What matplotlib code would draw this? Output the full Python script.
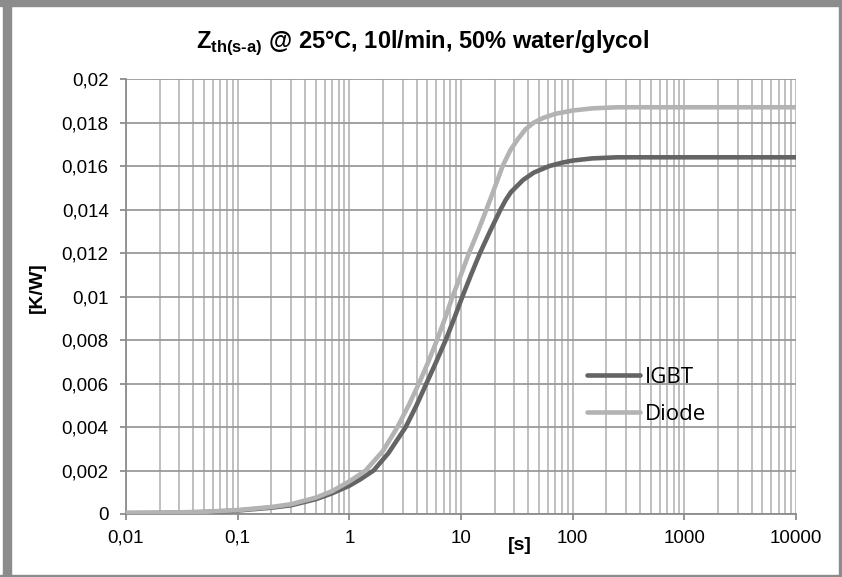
import matplotlib
matplotlib.use("Agg")
import matplotlib.pyplot as plt
from matplotlib.patches import Rectangle
from matplotlib.ticker import FixedLocator, LogLocator, NullFormatter

# ---- data ----
igbt_t = [0.01, 0.02, 0.05, 0.1, 0.2, 0.3, 0.5, 0.7, 1.0, 1.26, 1.65, 2.24, 3.2, 4.0, 4.9,
          6.0, 7.3, 8.7, 10.3, 12.3, 14.8, 18.2, 22.6, 25.1, 28, 36, 45, 62, 80, 100, 150,
          250, 1000, 10000]
igbt_z = [0.00004, 0.00005, 0.00009, 0.00016, 0.00029, 0.0004, 0.00068, 0.00095, 0.0013,
          0.0016, 0.002, 0.0028, 0.004, 0.005, 0.006, 0.007, 0.008, 0.009, 0.010, 0.011,
          0.012, 0.013, 0.014, 0.01443, 0.0148, 0.01536, 0.0157, 0.0160, 0.01615, 0.01625,
          0.01635, 0.0164, 0.0164, 0.0164]

diode_t = [0.01, 0.02, 0.05, 0.1, 0.2, 0.3, 0.5, 0.7, 1.0, 1.17, 1.4, 2.0, 2.7, 3.4, 4.2,
           5.1, 6.1, 7.2, 8.4, 10, 11.8, 14.2, 16.9, 20, 23.6, 27.5, 31.9, 38, 45, 55, 70,
           100, 150, 250, 1000, 10000]
diode_z = [0.00005, 0.00006, 0.0001, 0.00018, 0.00032, 0.00045, 0.00075, 0.00105, 0.0015,
           0.00173, 0.002, 0.0029, 0.004, 0.005, 0.006, 0.007, 0.008, 0.009, 0.010, 0.011,
           0.012, 0.013, 0.014, 0.015, 0.016, 0.0167, 0.0172, 0.0177, 0.0180, 0.01822,
           0.0184, 0.01855, 0.01865, 0.0187, 0.0187, 0.0187]

x_ticks = [0.01, 0.1, 1, 10, 100, 1000, 10000]
x_tick_labels = ["0,01", "0,1", "1", "10", "100", "1000", "10000"]
y_ticks = [0, 0.002, 0.004, 0.006, 0.008, 0.01, 0.012, 0.014, 0.016, 0.018, 0.02]
y_tick_labels = ["0", "0,002", "0,004", "0,006", "0,008", "0,01", "0,012", "0,014",
                 "0,016", "0,018", "0,02"]

series_names = ["IGBT", "Diode"]

plt.rcParams['font.family'] = ['Liberation Sans', 'DejaVu Sans']
plt.rcParams['mathtext.fontset'] = 'custom'
plt.rcParams['mathtext.rm'] = 'Liberation Sans'
plt.rcParams['mathtext.bf'] = 'Liberation Sans:bold'

fig = plt.figure(figsize=(8.42, 5.77), dpi=100)
W, H = 842, 577

# outer frame
frame_col = "#8c8c8c"
fig.patches.append(Rectangle((0, 1 - 6 / H), 1, 6 / H, transform=fig.transFigure,
                             color=frame_col, zorder=0))
fig.patches.append(Rectangle((3 / W, 0), 8 / W, 1, transform=fig.transFigure,
                             color=frame_col, zorder=0))
fig.patches.append(Rectangle((839 / W, 0), 3 / W, 1, transform=fig.transFigure,
                             color=frame_col, zorder=0))
fig.patches.append(Rectangle((0, 0), 1, 2 / H, transform=fig.transFigure,
                             color=frame_col, zorder=0))

ax = fig.add_axes([126 / W, 1 - 514 / H, (796 - 126) / W, (514 - 79) / H])
ax.set_xscale("log")
ax.set_xlim(0.01, 10000)
ax.set_ylim(0, 0.02)

ax.plot(igbt_t, igbt_z, color="#646464", lw=3.3, solid_capstyle="round",
        solid_joinstyle="round", label=series_names[0], zorder=3)
ax.plot(diode_t, diode_z, color="#b3b3b3", lw=3.3, solid_capstyle="round",
        solid_joinstyle="round", label=series_names[1], zorder=3)

ax.xaxis.set_major_locator(FixedLocator(x_ticks))
ax.set_xticklabels(x_tick_labels)
ax.xaxis.set_minor_locator(LogLocator(base=10, subs=range(2, 10), numticks=100))
ax.xaxis.set_minor_formatter(NullFormatter())
ax.set_yticks(y_ticks)
ax.set_yticklabels(y_tick_labels)

ax.grid(True, which="major", axis="x", color="#bababa", lw=1.3)
ax.grid(True, which="minor", axis="x", color="#bababa", lw=1.3)
ax.grid(True, which="major", axis="y", color="#9a9a9a", lw=1.3)
ax.set_axisbelow(True)

for s in ["top", "right"]:
    ax.spines[s].set_visible(False)
for s in ["left", "bottom"]:
    ax.spines[s].set_color("#8c8c8c")
    ax.spines[s].set_linewidth(1.3)

ax.tick_params(axis="both", which="major", direction="out", length=4.5, width=1.3,
               color="#8c8c8c", labelsize=13.5, labelcolor="black")
ax.tick_params(axis="x", which="minor", length=0)
ax.tick_params(axis="x", pad=7)
ax.tick_params(axis="y", pad=8)

fig.text(423 / W, 1 - 48 / H,
         "Z$_{\\mathbf{th(s\u2010a)}}$ @ 25°C, 10l/min, 50% water/glycol",
         ha="center", va="baseline", fontsize=17, fontweight="bold")

fig.text(37 / W, 1 - 288 / H, "[K/W]", rotation=90, ha="center", va="center",
         fontsize=14, fontweight="bold")
fig.text(520 / W, 1 - 546 / H, "[s]", ha="center", va="center",
         fontsize=14, fontweight="bold")

leg = ax.legend(loc="upper left",
                bbox_to_anchor=((587 - 126) / (796 - 126), (514 - 367) / (514 - 79)),
                frameon=False, handlelength=2.4, handletextpad=0.2, labelspacing=0.72,
                prop={"family": "Open Sans", "size": 16}, borderaxespad=0, borderpad=0)

fig.savefig("out.png", dpi=100)
